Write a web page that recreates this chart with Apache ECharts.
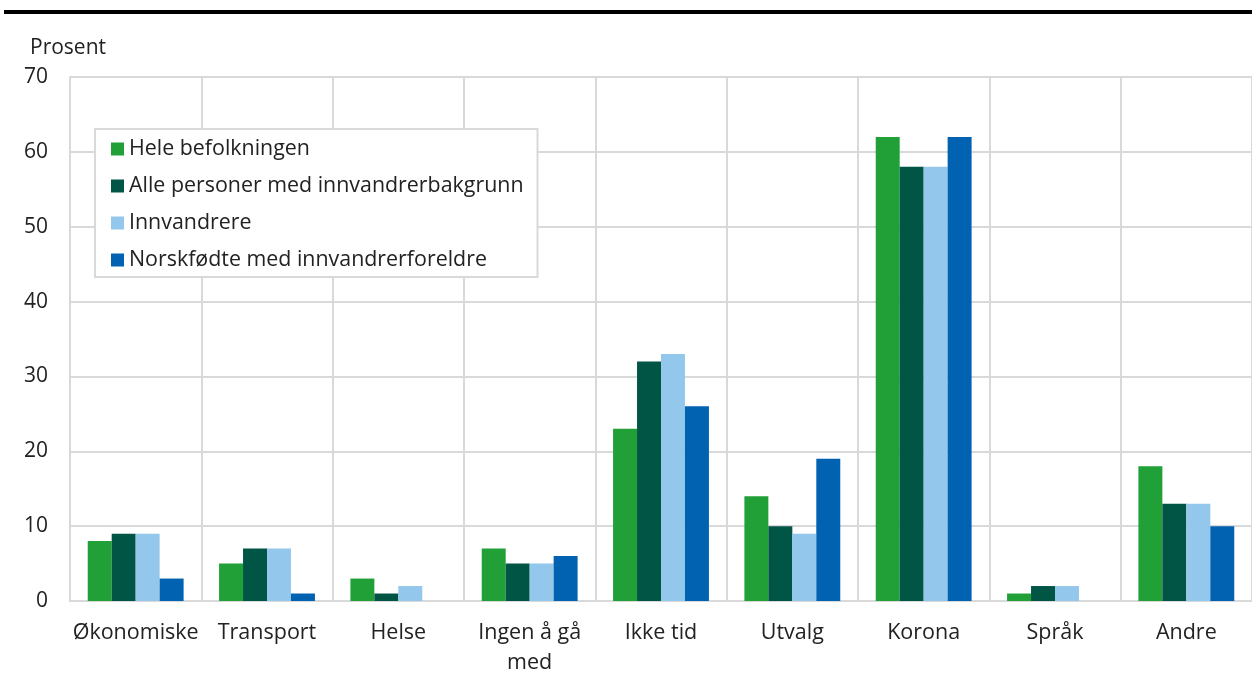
<!DOCTYPE html>
<html>
<head>
<meta charset="utf-8">
<script src="https://cdn.jsdelivr.net/npm/echarts@6/dist/echarts.min.js"></script>
<style>html,body{margin:0;padding:0;background:#fff}#c{width:1252px;height:678px}</style>
</head>
<body>
<div id="c"></div>
<script>
const categories = ['Økonomiske', 'Transport', 'Helse', 'Ingen å gå\nmed', 'Ikke tid', 'Utvalg', 'Korona', 'Språk', 'Andre'];
const seriesNames = ['Hele befolkningen', 'Alle personer med innvandrerbakgrunn', 'Innvandrere', 'Norskfødte med innvandrerforeldre'];
const heleBefolkningen = [8, 5, 3, 7, 23, 14, 62, 1, 18];
const alleInnvandrerbakgrunn = [9, 7, 1, 5, 32, 10, 58, 2, 13];
const innvandrere = [9, 7, 2, 5, 33, 9, 58, 2, 13];
const norskfodte = [3, 1, 0, 6, 26, 19, 62, 0, 10];
const yTicks = [0, 10, 20, 30, 40, 50, 60, 70];
const colors = ['#21a038', '#005545', '#93c7ec', '#0062b0'];
const values = [heleBefolkningen, alleInnvandrerbakgrunn, innvandrere, norskfodte];

const font = '"Open Sans", "Noto Sans", sans-serif';
const chart = echarts.init(document.getElementById('c'), null, {renderer: 'canvas'});
chart.setOption({
  animation: false,
  textStyle: {fontFamily: font},
  grid: {left: 70, right: -1, top: 77, bottom: 77, containLabel: false},
  title: {
    text: 'Prosent', left: 25, top: 33,
    textStyle: {fontFamily: font, fontSize: 21, fontWeight: 'normal', color: '#222'}
  },
  legend: {
    orient: 'vertical', left: 95, top: 129,
    padding: [6, 14, 3, 16],
    itemGap: 9,
    itemWidth: 13, itemHeight: 13,
    icon: 'rect',
    borderColor: '#d9d9d9', borderWidth: 2,
    backgroundColor: '#fff',
    textStyle: {fontFamily: font, fontSize: 21.4, color: '#222', lineHeight: 28},
    data: seriesNames
  },
  graphic: [{
    type: 'rect', shape: {x: 4, y: 10, width: 1252, height: 4}, style: {fill: '#000'}, silent: true
  }],
  xAxis: {
    type: 'category', data: categories,
    axisLine: {lineStyle: {color: '#d9d9d9', width: 2}},
    axisTick: {show: false},
    splitLine: {show: true, lineStyle: {color: '#d9d9d9', width: 2}},
    axisLabel: {fontFamily: font, fontSize: 21.5, color: '#222', margin: 17, lineHeight: 30, interval: 0}
  },
  yAxis: {
    type: 'value', min: 0, max: 70, interval: 10,
    axisLine: {show: true, lineStyle: {color: '#d9d9d9', width: 2}},
    axisTick: {show: false},
    splitLine: {lineStyle: {color: '#d9d9d9', width: 2}},
    axisLabel: {fontFamily: font, fontSize: 21, color: '#222', margin: 22,
      formatter: v => yTicks.includes(v) ? String(v) : ''}
  },
  series: seriesNames.map((name, i) => ({
    name, type: 'bar', data: values[i],
    barGap: '0%', barCategoryGap: '27%',
    itemStyle: {color: colors[i]}
  }))
});
</script>
</body>
</html>
